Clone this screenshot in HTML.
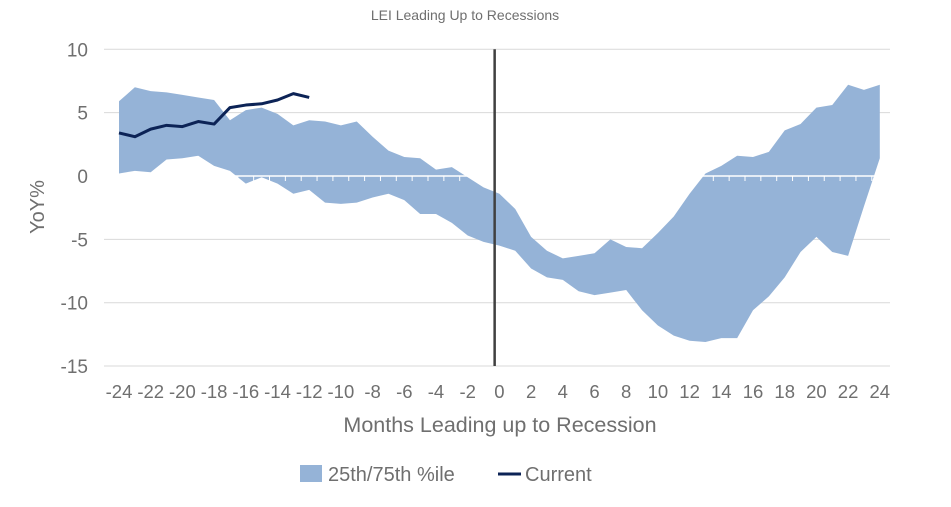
<!DOCTYPE html>
<html><head><meta charset="utf-8"><style>
body{margin:0;background:#fff;font-family:"Liberation Sans",sans-serif;}
svg text{font-family:"Liberation Sans",sans-serif;fill:#6f6f6f;}
</style></head><body>
<svg id="chart" width="951" height="502">
<text x="465" y="20" text-anchor="middle" font-size="14">LEI Leading Up to Recessions</text>
<text transform="translate(44,207) rotate(-90)" text-anchor="middle" font-size="20">YoY%</text>
<text x="500" y="432" text-anchor="middle" font-size="21.5">Months Leading up to Recession</text>
<g id="grid"></g><g id="band"></g><g id="axis"></g><g id="line"></g><g id="labels"></g>
<rect x="300" y="465" width="22" height="17" fill="#95b3d7"/>
<text x="328" y="481" font-size="20">25th/75th %ile</text>
<line x1="498" y1="474" x2="521" y2="474" stroke="#0c2356" stroke-width="3"/>
<text x="525" y="481" font-size="20">Current</text>
</svg>
<script>
const months=[];for(let m=-24;m<=24;m++)months.push(m);
const upper=[5.9,7.0,6.7,6.6,6.4,6.2,6.0,4.4,5.2,5.4,4.9,4.0,4.4,4.3,4.0,4.3,3.1,2.0,1.5,1.4,0.5,0.7,-0.1,-0.9,-1.4,-2.6,-4.8,-5.9,-6.5,-6.3,-6.1,-5.0,-5.6,-5.7,-4.5,-3.2,-1.4,0.2,0.8,1.6,1.5,1.9,3.6,4.1,5.4,5.6,7.2,6.8,7.2];
const lower=[0.2,0.4,0.3,1.3,1.4,1.6,0.8,0.4,-0.6,-0.1,-0.6,-1.4,-1.1,-2.1,-2.2,-2.1,-1.7,-1.4,-1.9,-3.0,-3.0,-3.7,-4.7,-5.2,-5.5,-5.9,-7.3,-8.0,-8.2,-9.1,-9.4,-9.2,-9.0,-10.6,-11.8,-12.6,-13.0,-13.1,-12.8,-12.8,-10.6,-9.5,-8.0,-6.0,-4.8,-6.0,-6.3,-2.4,1.4];
const currentMonths=[-24,-23,-22,-21,-20,-19,-18,-17,-16,-15,-14,-13,-12];
const current=[3.4,3.1,3.7,4.0,3.9,4.3,4.1,5.4,5.6,5.7,6.0,6.5,6.2];
const yTicks=[10,5,0,-5,-10,-15];
const xTickLabels=[];for(let m=-24;m<=24;m+=2)xTickLabels.push(m);
const recessionMonth=-0.3;
const X=m=>119+(m+24)*15.85, Y=v=>176-v*12.67;
const NS='http://www.w3.org/2000/svg';
function mk(t,a,p){const e=document.createElementNS(NS,t);for(const k in a)e.setAttribute(k,a[k]);document.getElementById(p).appendChild(e);return e;}
yTicks.forEach(v=>{
 const l=mk('line',{x1:104,x2:890,y1:Y(v),y2:Y(v),stroke:'#d9d9d9','stroke-width':1},'grid');
 
 
 const t=mk('text',{x:88,y:Y(v)+7,'text-anchor':'end','font-size':19},'labels');t.textContent=v;
 
 
});
let d='';months.forEach((m,i)=>d+=(i?'L':'M')+X(m)+','+Y(upper[i]));
for(let i=months.length-1;i>=0;i--)d+='L'+X(months[i])+','+Y(lower[i]);
const band=mk('path',{d:d+'Z',fill:'#95b3d7'},'band');


const ax=mk('line',{x1:104,x2:890,y1:Y(0),y2:Y(0),stroke:'#fff','stroke-width':1.5},'axis');


months.forEach(m=>{const t=mk('line',{x1:X(m)-8,x2:X(m)-8,y1:Y(0),y2:Y(0)+5,stroke:'#fff'},'axis');
 
 });
xTickLabels.forEach(m=>{const t=mk('text',{x:X(m),y:398,'text-anchor':'middle','font-size':18.5},'labels');t.textContent=m;
 
 });
const vl=mk('line',{x1:X(recessionMonth),x2:X(recessionMonth),y1:Y(10),y2:Y(-15),stroke:'#404040','stroke-width':2.5},'axis');


let p='';currentMonths.forEach((m,i)=>p+=(i?'L':'M')+X(m)+','+Y(current[i]));
const cl=mk('path',{d:p,fill:'none',stroke:'#0c2356','stroke-width':3,'stroke-linejoin':'round'},'line');


</script>
</body></html>
